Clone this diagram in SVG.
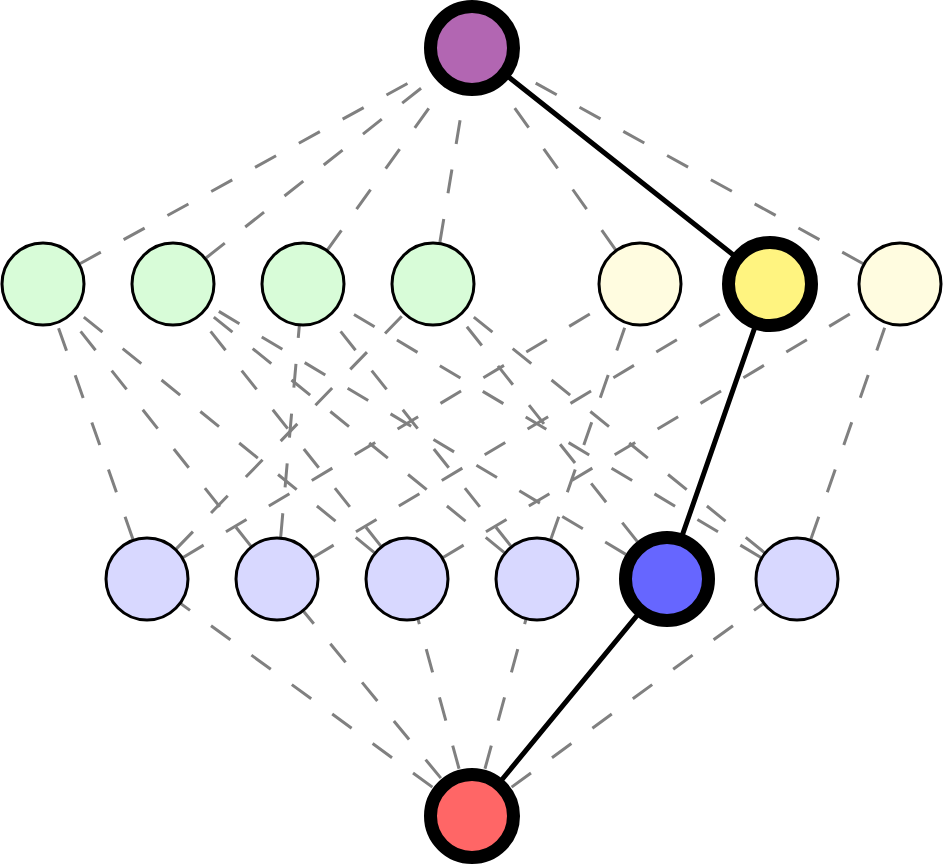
<svg xmlns="http://www.w3.org/2000/svg" width="944" height="864" viewBox="0 0 944 864">
<style>
.e{stroke:#808080;stroke-width:3;fill:none;stroke-dasharray:24 26;stroke-dashoffset:8}
.eh{stroke-dashoffset:2}
.eb{stroke-dashoffset:1}
.p{stroke:#000;stroke-width:5;fill:none}
.n{stroke:#000;stroke-width:3}
.h{stroke:#000;stroke-width:13}
.g{fill:#d8fcd8}
.ly{fill:#fffce0}
.l{fill:#d8d8ff}
</style>
<rect width="944" height="864" fill="#fff"/>
<g id="connectors">
<line class="e" x1="43" y1="284" x2="472" y2="48"/>
<line class="e" x1="173" y1="284" x2="472" y2="48"/>
<line class="e" x1="303" y1="284" x2="472" y2="48"/>
<line class="e" x1="433" y1="284" x2="472" y2="48"/>
<line class="e" x1="640" y1="284" x2="472" y2="48"/>
<line class="e" x1="900" y1="284" x2="472" y2="48"/>
<line class="e" x1="147" y1="579" x2="43" y2="284"/>
<line class="e" x1="147" y1="579" x2="433" y2="284"/>
<line class="e" x1="147" y1="579" x2="640" y2="284"/>
<line class="e" x1="277" y1="579" x2="43" y2="284"/>
<line class="e" x1="277" y1="579" x2="303" y2="284"/>
<line class="e" x1="277" y1="579" x2="770" y2="284"/>
<line class="e" x1="407" y1="579" x2="43" y2="284"/>
<line class="e" x1="407" y1="579" x2="173" y2="284"/>
<line class="e" x1="407" y1="579" x2="900" y2="284"/>
<line class="e" x1="537" y1="579" x2="173" y2="284"/>
<line class="e" x1="537" y1="579" x2="303" y2="284"/>
<line class="e" x1="537" y1="579" x2="640" y2="284"/>
<line class="e eh" x1="667" y1="579" x2="173" y2="284"/>
<line class="e eh" x1="667" y1="579" x2="433" y2="284"/>
<line class="e" x1="797" y1="579" x2="303" y2="284"/>
<line class="e" x1="797" y1="579" x2="433" y2="284"/>
<line class="e" x1="797" y1="579" x2="900" y2="284"/>
<line class="e eb" x1="472" y1="816" x2="147" y2="579"/>
<line class="e eb" x1="472" y1="816" x2="277" y2="579"/>
<line class="e eb" x1="472" y1="816" x2="407" y2="579"/>
<line class="e eb" x1="472" y1="816" x2="537" y2="579"/>
<line class="e eb" x1="472" y1="816" x2="797" y2="579"/>
<polyline class="p" points="472,48 770,284 667,579 472,816"/>
</g>
<g id="top"><circle class="h" cx="472" cy="48" r="41.5" fill="#b266b2"/></g>
<g id="g1"><circle class="n g" cx="43" cy="284" r="41"/></g>
<g id="g2"><circle class="n g" cx="173" cy="284" r="41"/></g>
<g id="g3"><circle class="n g" cx="303" cy="284" r="41"/></g>
<g id="g4"><circle class="n g" cx="433" cy="284" r="41"/></g>
<g id="y1"><circle class="n ly" cx="640" cy="284" r="41"/></g>
<g id="y2"><circle class="h" cx="770" cy="284" r="41.5" fill="#fff480"/></g>
<g id="y3"><circle class="n ly" cx="900" cy="284" r="41"/></g>
<g id="l1"><circle class="n l" cx="147" cy="579" r="41"/></g>
<g id="l2"><circle class="n l" cx="277" cy="579" r="41"/></g>
<g id="l3"><circle class="n l" cx="407" cy="579" r="41"/></g>
<g id="l4"><circle class="n l" cx="537" cy="579" r="41"/></g>
<g id="l5"><circle class="h" cx="667" cy="579" r="41.5" fill="#6666ff"/></g>
<g id="l6"><circle class="n l" cx="797" cy="579" r="41"/></g>
<g id="bottom"><circle class="h" cx="472" cy="816" r="41.5" fill="#ff6666"/></g>
</svg>
